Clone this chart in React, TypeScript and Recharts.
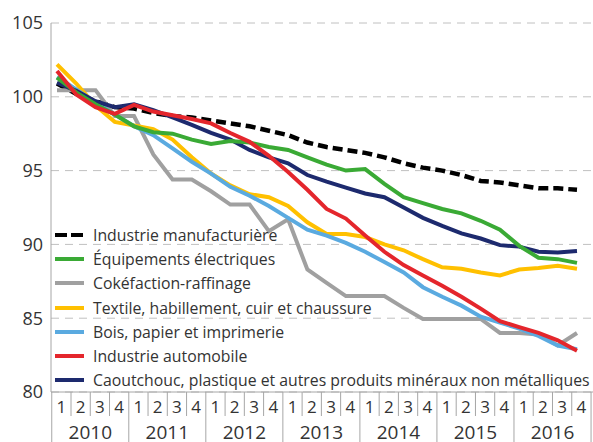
import React from 'react';
import { LineChart, Line, XAxis, YAxis, CartesianGrid } from 'recharts';

// Trimestres 2010T1 - 2016T4
const years = ['2010', '2011', '2012', '2013', '2014', '2015', '2016'];
const quarters = years.flatMap(() => ['1', '2', '3', '4']);

const manufacturiere = [100.9, 100.2, 99.7, 99.3, 99.2, 98.9, 98.7, 98.6, 98.4, 98.2, 98.0, 97.7, 97.4, 96.9, 96.6, 96.4, 96.2, 95.9, 95.5, 95.2, 95.0, 94.7, 94.3, 94.2, 94.0, 93.8, 93.8, 93.7];
const equipements = [101.3, 100.3, 99.5, 98.8, 98.0, 97.6, 97.5, 97.1, 96.8, 97.0, 96.9, 96.6, 96.4, 95.9, 95.4, 95.0, 95.1, 94.1, 93.2, 92.8, 92.4, 92.1, 91.6, 91.0, 89.9, 89.1, 89.0, 88.75];
const cokefaction = [100.45, 100.45, 100.45, 98.7, 98.7, 96.1, 94.4, 94.4, 93.6, 92.7, 92.7, 90.9, 91.7, 88.3, 87.4, 86.5, 86.5, 86.5, 85.7, 84.95, 84.95, 84.95, 84.95, 84.0, 84.0, 83.9, 83.15, 84.0];
const textile = [102.2, 100.9, 99.4, 98.3, 98.05, 97.8, 97.1, 95.9, 94.8, 94.0, 93.4, 93.2, 92.6, 91.5, 90.7, 90.7, 90.5, 90.0, 89.6, 89.0, 88.45, 88.35, 88.1, 87.9, 88.3, 88.4, 88.55, 88.35];
const bois = [101.35, 100.5, 99.6, 98.8, 98.0, 97.4, 96.5, 95.6, 94.8, 93.9, 93.3, 92.6, 91.8, 91.0, 90.6, 90.1, 89.5, 88.8, 88.1, 87.1, 86.45, 85.85, 85.1, 84.7, 84.3, 83.8, 83.15, 82.9];
const automobile = [101.75, 100.15, 99.3, 98.85, 99.45, 99.0, 98.75, 98.5, 98.2, 97.55, 96.95, 96.0, 94.9, 93.7, 92.4, 91.75, 90.6, 89.5, 88.6, 87.9, 87.2, 86.45, 85.65, 84.8, 84.4, 84.0, 83.5, 82.8];
const caoutchouc = [100.95, 100.4, 99.7, 99.3, 99.5, 99.1, 98.6, 98.1, 97.55, 97.1, 96.4, 95.9, 95.5, 94.7, 94.25, 93.85, 93.45, 93.2, 92.5, 91.8, 91.25, 90.75, 90.4, 89.95, 89.85, 89.5, 89.45, 89.55];

const yTicks = [80, 85, 90, 95, 100, 105];

const series = [
  { key: 'manufacturiere', name: 'Industrie manufacturière', color: '#000000', dashed: true },
  { key: 'equipements', name: 'Équipements électriques', color: '#3aaa35' },
  { key: 'cokefaction', name: 'Cokéfaction-raffinage', color: '#a0a0a0' },
  { key: 'textile', name: 'Textile, habillement, cuir et chaussure', color: '#ffc000' },
  { key: 'bois', name: 'Bois, papier et imprimerie', color: '#5aaae0' },
  { key: 'automobile', name: 'Industrie automobile', color: '#e4262c' },
  { key: 'caoutchouc', name: 'Caoutchouc, plastique et autres produits minéraux non métalliques', color: '#1d2a6e' },
];

// ordre de tracé (le rouge au-dessus)
const drawOrder = ['manufacturiere', 'cokefaction', 'textile', 'bois', 'caoutchouc', 'equipements', 'automobile'];

const data = quarters.map((q, i) => ({
  idx: i,
  quarter: q,
  year: years[Math.floor(i / 4)],
  manufacturiere: manufacturiere[i],
  equipements: equipements[i],
  cokefaction: cokefaction[i],
  textile: textile[i],
  bois: bois[i],
  automobile: automobile[i],
  caoutchouc: caoutchouc[i],
}));

const FONT = '"Open Sans", sans-serif';
const TEXT = '#333333';
const AXIS = '#a6a6a6';
const SHIFT = 4.4;
const HALF = 9.65;

const QuarterTick = (props: any) => {
  const { x, y, payload } = props;
  const i = payload.index;
  const d = data[i];
  const cx = x + SHIFT;
  const left = cx - HALF;
  const right = cx + HALF;
  return (
    <g>
      <line x1={left} x2={left} y1={y} y2={d.quarter === '1' ? y + 50 : y + 24} stroke={AXIS} strokeWidth={1} />
      {i === data.length - 1 && (
        <line x1={right} x2={right} y1={y} y2={y + 50} stroke={AXIS} strokeWidth={1} />
      )}
      <text x={cx} y={y + 21} textAnchor="middle" fontSize={17} fontFamily={FONT} fill={TEXT}>
        {d.quarter}
      </text>
      {d.quarter === '2' && (
        <text x={right} y={y + 47} textAnchor="middle" fontSize={19} fontFamily={FONT} fill={TEXT}>
          {d.year}
        </text>
      )}
    </g>
  );
};

const LegendBox = () => (
  <div style={{ position: 'absolute', left: 55, top: 223, fontFamily: FONT, fontSize: 15.8, color: TEXT }}>
    {series.map((s) => (
      <div key={s.key} style={{ display: 'flex', alignItems: 'center', height: 24.2, whiteSpace: 'nowrap' }}>
        <svg width={30} height={6} style={{ marginRight: 8 }}>
          <line
            x1={0}
            x2={29}
            y1={3}
            y2={3}
            stroke={s.color}
            strokeWidth={4}
            strokeDasharray={s.dashed ? '12 4' : undefined}
          />
        </svg>
        <span>{s.name}</span>
      </div>
    ))}
  </div>
);

export default function App() {
  return (
    <div style={{ position: 'absolute', left: 0, top: 0, width: 593, height: 442, background: '#fff' }}>
      <LineChart width={593} height={442} data={data} margin={{ top: 23, right: 0, bottom: 0, left: 0 }}>
        <CartesianGrid vertical={false} stroke="#c0c0c0" strokeDasharray="8 6" />
        <XAxis
          dataKey="idx"
          type="category"
          interval={0}
          height={50}
          tickSize={0}
          tickMargin={0}
          tickLine={false}
          stroke={AXIS}
          padding={{ left: 6, right: 16 }}
          tick={<QuarterTick />}
        />
        <YAxis
          domain={[80, 105]}
          ticks={yTicks}
          width={51}
          tickLine={false}
          stroke={AXIS}
          tick={{ fontSize: 18, fontFamily: FONT, fill: TEXT }}
        />
        {drawOrder.map((k) => {
          const s = series.find((x) => x.key === k)!;
          return (
            <Line
              key={k}
              dataKey={k}
              name={s.name}
              stroke={s.color}
              strokeWidth={s.dashed ? 4.5 : 4}
              strokeDasharray={s.dashed ? '10 5' : undefined}
              dot={false}
              activeDot={false}
              type="linear"
              isAnimationActive={false}
            />
          );
        })}
      </LineChart>
      <LegendBox />
    </div>
  );
}
